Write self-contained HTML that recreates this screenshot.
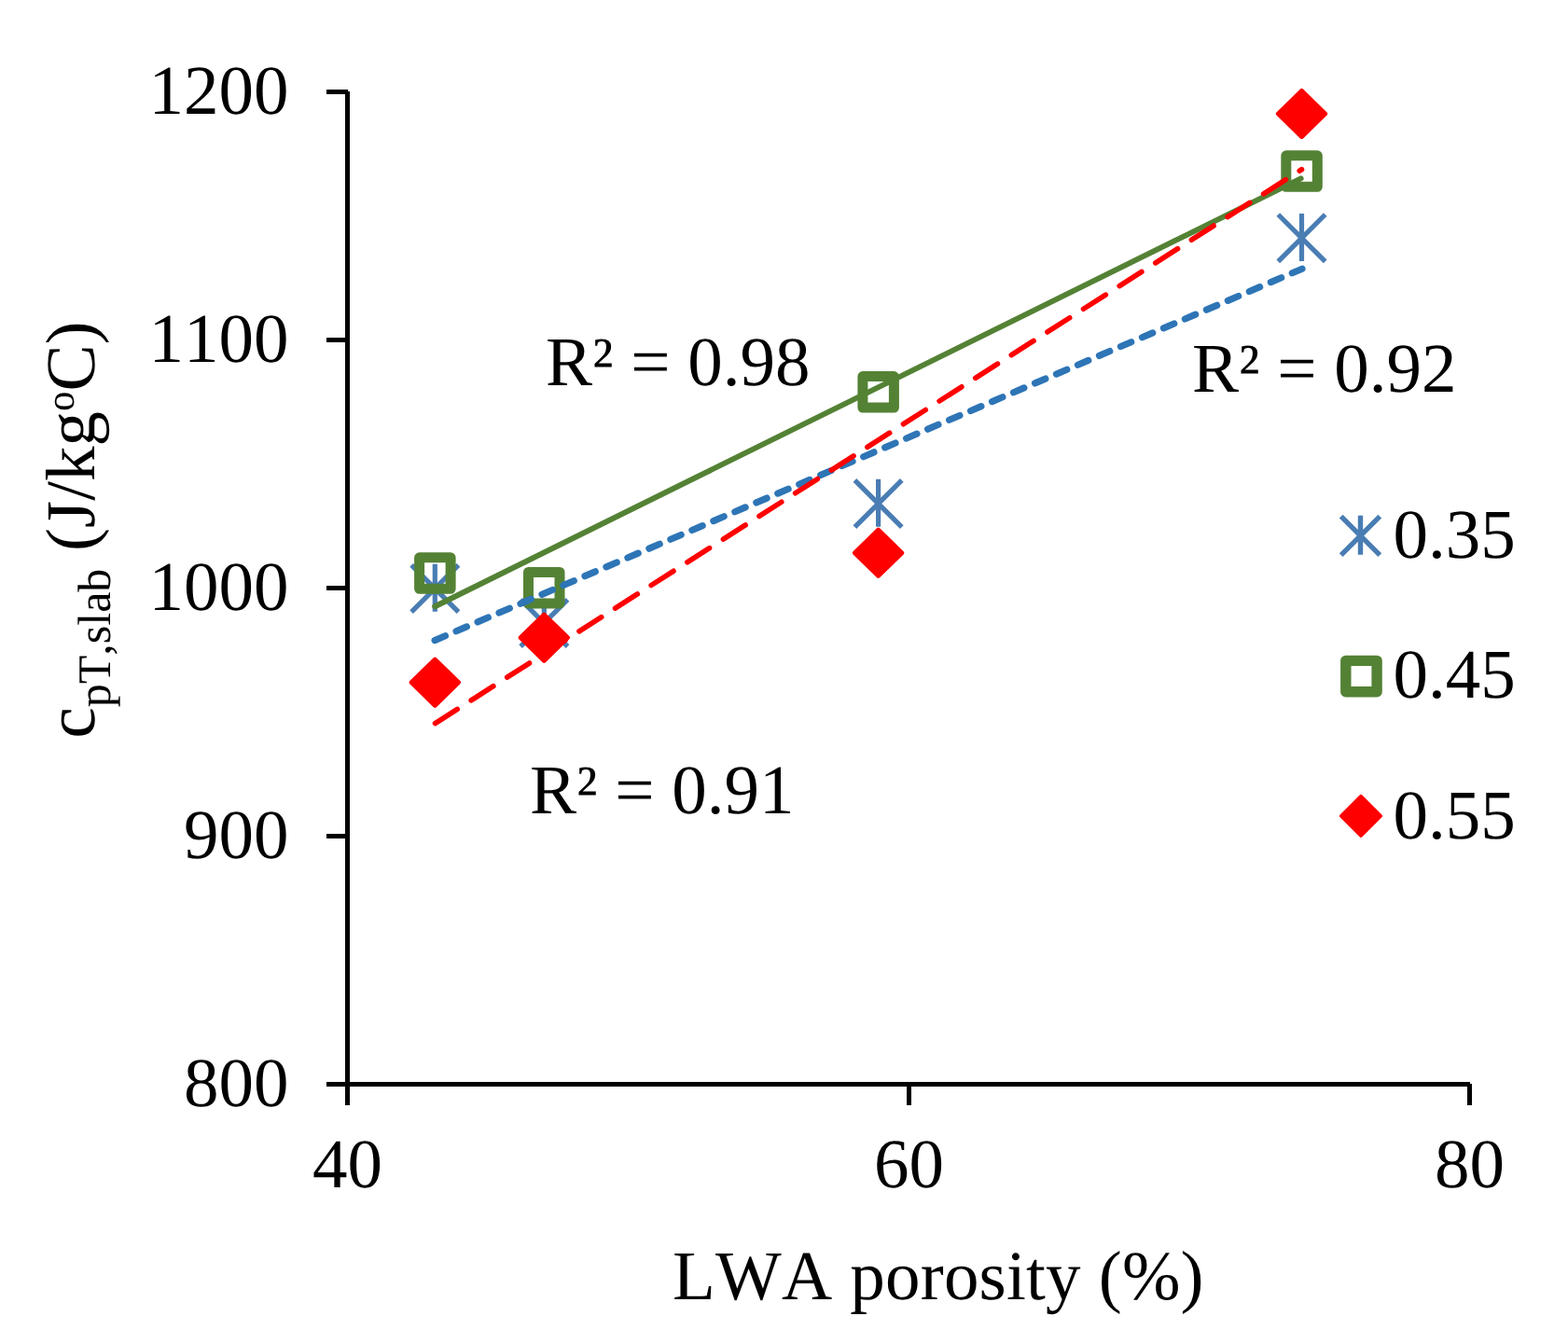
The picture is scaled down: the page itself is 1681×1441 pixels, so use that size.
<!DOCTYPE html>
<html lang="en"><head><meta charset="utf-8"><title>LWA porosity chart</title>
<style>html,body{margin:0;padding:0;background:#fff}body{width:1681px;height:1441px;overflow:hidden}svg{display:block}text{font-family:"Liberation Serif", "Times New Roman", serif;fill:#000;font-kerning:none;font-variant-ligatures:none;text-rendering:geometricPrecision}</style></head><body>
<svg width="1681" height="1441" viewBox="0 0 1681 1441">
<rect width="1681" height="1441" fill="#fff"/>
<g fill="#000" shape-rendering="crispEdges">
<rect x="370" y="98" width="5" height="1087"/>
<rect x="350" y="1160" width="1226" height="5"/>
<rect x="350" y="96" width="23" height="5"/>
<rect x="350" y="362" width="23" height="5"/>
<rect x="350" y="628" width="23" height="5"/>
<rect x="350" y="894" width="23" height="5"/>
<rect x="972" y="1160" width="5" height="25"/>
<rect x="1573" y="1162" width="5" height="23"/>
</g>
<g font-size="75" text-anchor="end">
<text x="309.6" y="122.0">1200</text>
<text x="309.6" y="388.0">1100</text>
<text x="309.6" y="654.0">1000</text>
<text x="309.6" y="920.0">900</text>
<text x="309.6" y="1186.0">800</text>
</g>
<g font-size="75" text-anchor="middle">
<text x="372.5" y="1273">40</text>
<text x="974.5" y="1273">60</text>
<text x="1575.5" y="1273">80</text>
</g>
<text x="721" y="1393.2" font-size="75" letter-spacing="0.2">LWA porosity (%)</text>
<text transform="translate(100.5 568) rotate(-90)" font-size="75" text-anchor="middle">c<tspan font-size="50" dy="17.3">pT,slab</tspan><tspan dy="-17.3"> (J/kg</tspan><tspan font-size="43" dy="-21.5">o</tspan><tspan dy="21.5">C)</tspan></text>
<path d="M441.1 605.8L491.5 656.2M491.5 605.8L441.1 656.2M466.3 604.8L466.3 655.8" stroke="#497db3" stroke-width="5.2" fill="none"/>
<path d="M558.1 642.8L608.5 693.2M608.5 642.8L558.1 693.2M583.3 641.8L583.3 692.8" stroke="#497db3" stroke-width="5.2" fill="none"/>
<path d="M916.4 514.8L966.8 565.2M966.8 514.8L916.4 565.2M941.6 513.8L941.6 564.8" stroke="#497db3" stroke-width="5.2" fill="none"/>
<path d="M1370.3 230.0L1420.7 280.4M1420.7 230.0L1370.3 280.4M1395.5 229.0L1395.5 280.0" stroke="#497db3" stroke-width="5.2" fill="none"/>
<rect x="449.6" y="597.8" width="33.5" height="33.5" fill="none" stroke="#548235" stroke-width="11" stroke-linejoin="round"/>
<rect x="566.5" y="613.5" width="33.5" height="33.5" fill="none" stroke="#548235" stroke-width="11" stroke-linejoin="round"/>
<rect x="924.9" y="403.6" width="33.5" height="33.5" fill="none" stroke="#548235" stroke-width="11" stroke-linejoin="round"/>
<rect x="1378.8" y="166.8" width="33.5" height="33.5" fill="none" stroke="#548235" stroke-width="11" stroke-linejoin="round"/>
<path d="M466.3 706.8L491.8 731.7L466.3 756.6L440.8 731.7Z" fill="#ff0000" stroke="#ff0000" stroke-width="4.5" stroke-linejoin="round"/>
<path d="M583.3 658.8L608.8 683.7L583.3 708.6L557.8 683.7Z" fill="#ff0000" stroke="#ff0000" stroke-width="4.5" stroke-linejoin="round"/>
<path d="M941.6 567.9L967.1 592.8L941.6 617.7L916.1 592.8Z" fill="#ff0000" stroke="#ff0000" stroke-width="4.5" stroke-linejoin="round"/>
<path d="M1395.5 97.1L1421.0 122.0L1395.5 146.9L1370.0 122.0Z" fill="#ff0000" stroke="#ff0000" stroke-width="4.5" stroke-linejoin="round"/>
<line x1="466.1" y1="686.6" x2="1396.0" y2="288.2" stroke="#2e75b6" stroke-width="7.2" stroke-dasharray="12.3 12.7" stroke-linecap="round"/>
<line x1="466.2" y1="650.2" x2="1394.6" y2="191.4" stroke="#548235" stroke-width="6" stroke-linecap="round"/>
<line x1="466.5" y1="775.6" x2="1395.5" y2="181.7" stroke="#ff0000" stroke-width="5.6" stroke-dasharray="28.2 17.63" stroke-linecap="round"/>
<g font-size="75">
<text x="585" y="412.6">R² = 0.98</text>
<text x="1278" y="420.3">R² = 0.92</text>
<text x="568" y="872">R² = 0.91</text>
</g>
<path d="M1437.7 553.6L1479.3 595.2M1479.3 553.6L1437.7 595.2M1458.5 552.7L1458.5 594.7" stroke="#497db3" stroke-width="5.4" fill="none"/>
<rect x="1442.8" y="708.4" width="33.3" height="33.3" fill="none" stroke="#548235" stroke-width="11.4" stroke-linejoin="round"/>
<path d="M1459.0 853.9L1480.0 874.9L1459.0 895.9L1438.0 874.9Z" fill="#ff0000" stroke="#ff0000" stroke-width="4" stroke-linejoin="round"/>
<g font-size="75">
<text x="1493.6" y="598">0.35</text>
<text x="1493.6" y="748">0.45</text>
<text x="1493.6" y="898.6">0.55</text>
</g>
</svg></body></html>
